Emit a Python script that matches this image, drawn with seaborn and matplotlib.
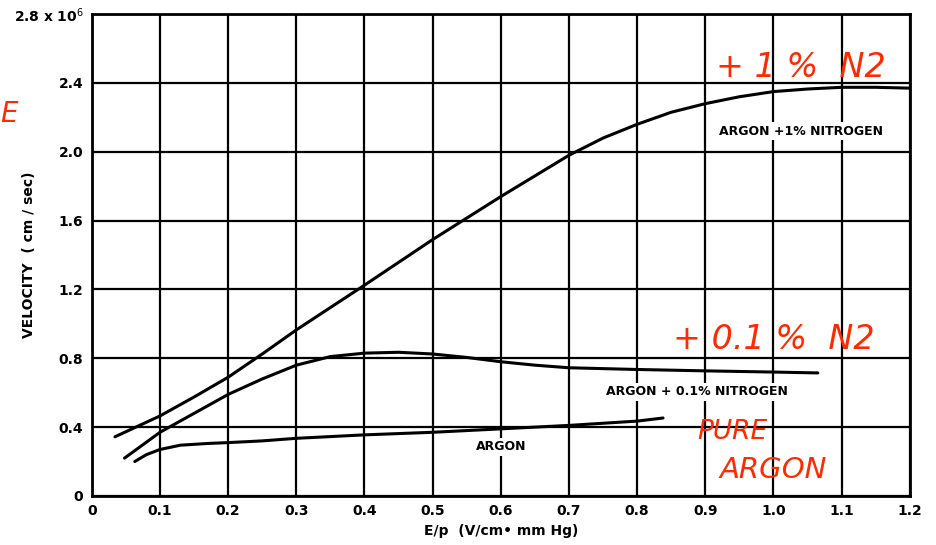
import numpy as np
import pandas as pd
import matplotlib
matplotlib.use("Agg")
import matplotlib.pyplot as plt
import seaborn as sns

# curves (E/p, velocity in 1e6 cm/sec)
ep_n1 = [0.034, 0.1, 0.15, 0.2, 0.25, 0.3, 0.4, 0.5, 0.6, 0.7, 0.75, 0.8, 0.85, 0.9, 0.95, 1.0, 1.05, 1.1, 1.15, 1.2]
vel_n1 = [0.344, 0.465, 0.575, 0.69, 0.825, 0.965, 1.225, 1.49, 1.74, 1.98, 2.08, 2.16, 2.23, 2.28, 2.32, 2.35, 2.365, 2.375, 2.375, 2.37]

ep_n01 = [0.048, 0.1, 0.15, 0.2, 0.25, 0.3, 0.35, 0.4, 0.45, 0.5, 0.55, 0.6, 0.65, 0.7, 0.8, 0.9, 1.0, 1.065]
vel_n01 = [0.22, 0.37, 0.48, 0.59, 0.68, 0.76, 0.81, 0.83, 0.835, 0.825, 0.805, 0.78, 0.76, 0.745, 0.735, 0.727, 0.72, 0.715]

ep_ar = [0.063, 0.08, 0.1, 0.13, 0.17, 0.2, 0.25, 0.3, 0.4, 0.5, 0.6, 0.7, 0.8, 0.838]
vel_ar = [0.20, 0.24, 0.27, 0.295, 0.305, 0.31, 0.32, 0.335, 0.355, 0.37, 0.39, 0.41, 0.435, 0.453]

x_ticks = [0, 0.1, 0.2, 0.3, 0.4, 0.5, 0.6, 0.7, 0.8, 0.9, 1.0, 1.1, 1.2]
x_labels = ["0", "0.1", "0.2", "0.3", "0.4", "0.5", "0.6", "0.7", "0.8", "0.9", "1.0", "1.1", "1.2"]
y_ticks = [0, 0.4, 0.8, 1.2, 1.6, 2.0, 2.4, 2.8]
y_labels = ["0", "0.4", "0.8", "1.2", "1.6", "2.0", "2.4", "2.8 x 10$^6$"]

df = pd.concat([
    pd.DataFrame({"ep": ep_n1, "vel": vel_n1, "gas": "ARGON +1% NITROGEN"}),
    pd.DataFrame({"ep": ep_n01, "vel": vel_n01, "gas": "ARGON + 0.1% NITROGEN"}),
    pd.DataFrame({"ep": ep_ar, "vel": vel_ar, "gas": "ARGON"}),
])

sns.set_style("white")
plt.rcParams["font.family"] = ["DejaVu Sans"]
plt.rcParams["text.color"] = "black"
plt.rcParams["axes.labelcolor"] = "black"
plt.rcParams["xtick.color"] = "black"
plt.rcParams["ytick.color"] = "black"

fig = plt.figure(figsize=(9.37, 5.45), dpi=100)
ax = fig.add_axes([0.098, 0.09, 0.873, 0.884])

sns.lineplot(data=df, x="ep", y="vel", units="gas", estimator=None,
             color="black", lw=2.2, sort=False, ax=ax)

ax.set_xlim(0, 1.2)
ax.set_ylim(0, 2.8)
ax.set_xticks(x_ticks)
ax.set_xticklabels(x_labels, fontsize=10, fontweight="bold")
ax.set_yticks(y_ticks)
ax.set_yticklabels(y_labels, fontsize=10, fontweight="bold")
ax.tick_params(length=0, pad=6)
ax.grid(True, color="black", lw=1.6)
for s in ax.spines.values():
    s.set_color("black")
    s.set_linewidth(2)

ax.set_xlabel("E/p  (V/cm\u2022 mm Hg)", fontsize=10, fontweight="bold", labelpad=4)
ax.set_ylabel("VELOCITY  ( cm / sec)", fontsize=10, fontweight="bold")
ax.yaxis.set_label_coords(-0.068, 0.5)

box = dict(facecolor="white", edgecolor="none", pad=2)
ax.text(1.04, 2.12, "ARGON +1% NITROGEN", fontsize=9, fontweight="bold", ha="center", va="center", bbox=box)
ax.text(0.887, 0.605, "ARGON + 0.1% NITROGEN", fontsize=9, fontweight="bold", ha="center", va="center", bbox=box)
ax.text(0.60, 0.285, "ARGON", fontsize=9, fontweight="bold", ha="center", va="center", bbox=box)

# red handwritten notes
red = "#ff2a00"
ax.text(1.04, 2.49, "+ 1 %  N2", color=red, fontsize=24, ha="center", va="center", style="italic")
ax.text(1.0, 0.91, "+ 0.1 %  N2", color=red, fontsize=24, ha="center", va="center", style="italic")
ax.text(0.94, 0.37, "PURE", color=red, fontsize=19, ha="center", va="center", style="italic")
ax.text(1.0, 0.15, "ARGON", color=red, fontsize=21, ha="center", va="center", style="italic")
fig.text(0.0, 0.79, "E", color=red, fontsize=20, ha="left", va="center", style="italic")

fig.savefig("out.png", dpi=100)
